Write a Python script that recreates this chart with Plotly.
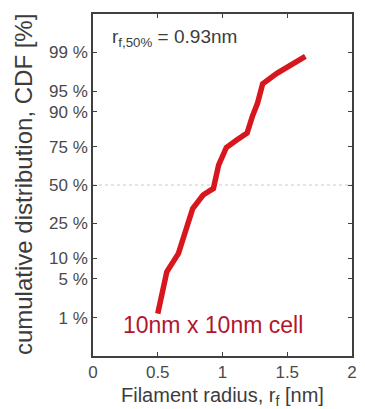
from statistics import NormalDist
import plotly.graph_objects as go

# Filament radius samples (nm) and their cumulative probability (%)
radius_nm = [0.50, 0.57, 0.66, 0.72, 0.77, 0.85, 0.93, 0.97, 1.03, 1.11,
             1.19, 1.23, 1.27, 1.31, 1.42, 1.64]
cdf_pct = [1.2, 6.4, 11.5, 21.5, 34.0, 43.0, 47.6, 63.7, 74.5, 78.5,
           81.9, 88.5, 92.4, 96.2, 97.5, 98.8]

# Probability-paper ticks
tick_pct = [1, 5, 10, 25, 50, 75, 90, 95, 99]
tick_text = [f"{p} %" for p in tick_pct]
x_ticks = [0, 0.5, 1, 1.5, 2]
x_tick_text = ["0", "0.5", "1", "1.5", "2"]

median_pct = 50
median_label = "r<sub>f,50%</sub> = 0.93nm"
cell_label = "10nm x 10nm cell"

nd = NormalDist()
z = [nd.inv_cdf(p / 100) for p in cdf_pct]
tick_z = [nd.inv_cdf(p / 100) for p in tick_pct]
z_med = nd.inv_cdf(median_pct / 100)

FONT = "Liberation Sans, Arial, sans-serif"
TXT = "#3c3c3c"

fig = go.Figure()

# 50 % reference line
fig.add_trace(go.Scatter(
    x=[0, 2], y=[z_med, z_med], mode="lines",
    line=dict(color="#c9c9c9", width=1, dash="dot"),
    hoverinfo="skip", showlegend=False,
))

fig.add_trace(go.Scatter(
    x=radius_nm, y=z, mode="lines",
    line=dict(color="#d8161e", width=5.5),
    showlegend=False,
))

axis_common = dict(
    showline=True, linecolor="#404040", linewidth=1.5, mirror="ticks",
    ticks="inside", ticklen=4, tickcolor="#404040", tickwidth=1.2,
    showgrid=False, zeroline=False,
    tickfont=dict(family=FONT, size=17, color="#4a4a4a"),
)

fig.update_xaxes(range=[0, 2], tickvals=x_ticks, ticktext=x_tick_text,
                 **axis_common)
fig.update_yaxes(range=[-3, 3], tickvals=tick_z, ticktext=tick_text,
                 **axis_common)

fig.add_annotation(
    text=median_label, xref="paper", yref="paper",
    x=0.065, y=0.93, xanchor="left", yanchor="middle", showarrow=False,
    font=dict(family=FONT, size=19, color=TXT),
)
fig.add_annotation(
    text=cell_label, xref="paper", yref="paper",
    x=0.108, y=0.09, xanchor="left", yanchor="middle", showarrow=False,
    font=dict(family=FONT, size=23, color="#b3162c"),
)
# axis titles
fig.add_annotation(
    text="Filament radius, r<sub>f</sub> [nm]", xref="paper", yref="paper",
    x=0.5, y=-0.118, xanchor="center", yanchor="middle", showarrow=False,
    font=dict(family=FONT, size=20, color=TXT),
)
fig.add_annotation(
    text="cumulative distribution, CDF [%]", xref="paper", yref="paper",
    x=-0.27, y=0.5, xanchor="center", yanchor="middle", showarrow=False,
    textangle=-90,
    font=dict(family=FONT, size=24, color=TXT),
)

fig.update_layout(
    width=365, height=409,
    margin=dict(l=93, r=8, t=14, b=53),
    paper_bgcolor="white", plot_bgcolor="white",
)

fig.write_html("out.html")
